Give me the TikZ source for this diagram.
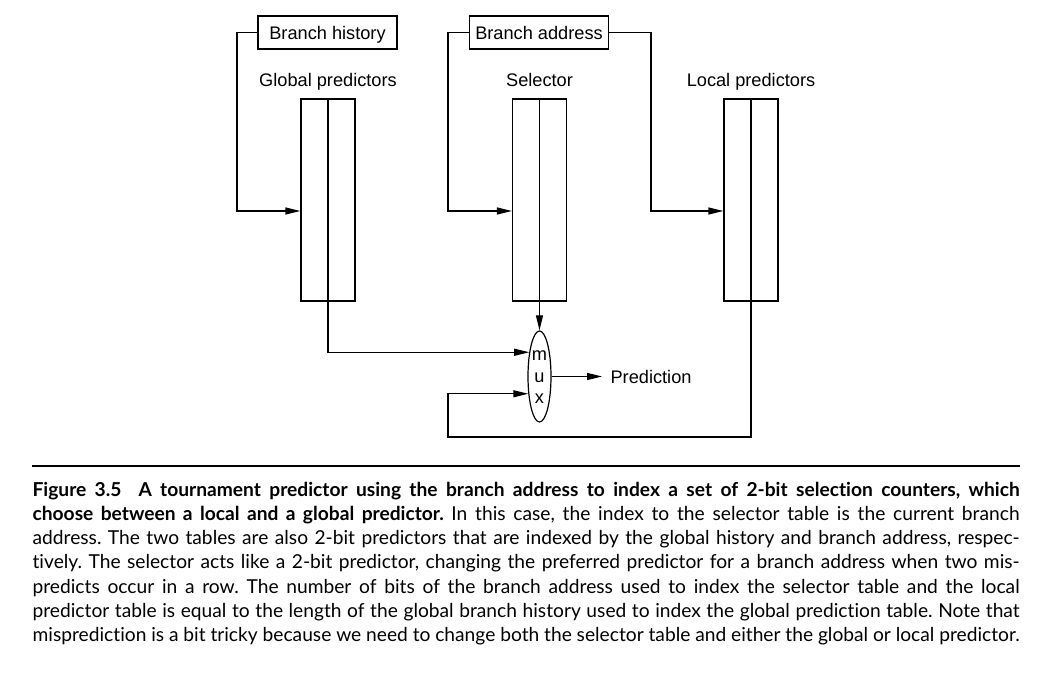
\documentclass[tikz,border=0pt]{standalone}
\usepackage{fontspec}
\setmainfont{Liberation Sans}
\newfontfamily\capfont[Ligatures=NoCommon]{Lato}
\usetikzlibrary{arrows.meta,shapes.geometric}
\def\capline#1{\makebox[493.5pt][s]{#1}}

\begin{document}
\begin{tikzpicture}[x=0.5pt, y=-0.5pt, line width=0.6pt,
		lbl/.style={font=\fontsize{9.1}{11}\selectfont, inner sep=0pt},
		inbox/.style={draw, lbl, minimum width=69.5pt, minimum height=16.5pt, text depth=0pt},
		predtab/.style={draw, minimum width=27pt, minimum height=101pt, inner sep=0pt},
		arr/.style={-{Triangle[length=7.5pt,width=3.5pt]}}]
			%%%%% START %%%%%
			\useasboundingbox (0,0) rectangle (1040,679);
			
			\node[inbox] (hist) at (327.5,32.5) {Branch history};
			\node[inbox] (addr) at (539,32.5) {Branch address};
			
			\node[lbl, anchor=base] (glbl) at (328,87) {Global predictors};
			\node[lbl, anchor=base] (slbl) at (539.5,87) {Selector};
			\node[lbl, anchor=base] (llbl) at (751,87) {Local predictors};
			
			\node[predtab] (gtab) at (328,200) {};
			\node[predtab] (stab) at (539.5,200) {};
			\node[predtab] (ltab) at (751,200) {};
			\foreach \t in {gtab,stab,ltab}
				\draw (\t.north) -- (\t.south);
			
			\coordinate (hbend) at (237,211);
			\coordinate (abend) at (448,211);
			\coordinate (lbend) at (651,211);
			\draw[arr] (hist.west) -| (hbend) -- (gtab.west |- hbend);
			\draw[arr] (addr.west) -| (abend) -- (stab.west |- abend);
			\draw[arr] (addr.east) -| (lbend) -- (ltab.west |- lbend);
			
			% mux
			\node[draw, ellipse, minimum width=11.5pt, minimum height=45.5pt, inner sep=0pt] (mux) at (539.5,376.5) {};
			\node[lbl, anchor=base] (mm) at (539.5,361) {m};
			\node[lbl, anchor=base] (mu) at (539.5,382.7) {u};
			\node[lbl, anchor=base] (mx) at (539.5,403.8) {x};
			
			\draw[arr] (stab.south) -- (mux.north);
			\draw[arr] (gtab.south) |- (mux.113);
			\coordinate (lowc) at (448,437);
			\draw[arr] (ltab.south) |- (lowc) |- (mux.237);
			
			\node[lbl, anchor=west, inner xsep=4pt] (pred) at (602,376.5) {Prediction};
			\draw[arr] (mux.east) -- (pred.west);
			
			% caption
			\coordinate (rl) at (32,466);
			\coordinate (rr) at (1019.5,466);
			\draw[line width=0.65pt] (rl) -- (rr);
			\node[anchor=north west, inner sep=0pt, align=left, font=\capfont\fontsize{9.6}{12.1}\selectfont\frenchspacing] (cap) at (32,481.5) {%
				\capline{\textbf{Figure 3.5\hspace{0.45em} A tournament predictor using the branch address to index a set of 2-bit selection counters, which}}\\
				\capline{\textbf{choose between a local and a global predictor.} In this case, the index to the selector table is the current branch}\\
				\capline{address. The two tables are also 2-bit predictors that are indexed by the global history and branch address, respec-}\\
				\capline{tively. The selector acts like a 2-bit predictor, changing the preferred predictor for a branch address when two mis-}\\
				\capline{predicts occur in a row. The number of bits of the branch address used to index the selector table and the local}\\
				\capline{predictor table is equal to the length of the global branch history used to index the global prediction table. Note that}\\
				\capline{misprediction is a bit tricky because we need to change both the selector table and either the global or local predictor.}};
			%%%%% END %%%%%
\end{tikzpicture}
\end{document}
